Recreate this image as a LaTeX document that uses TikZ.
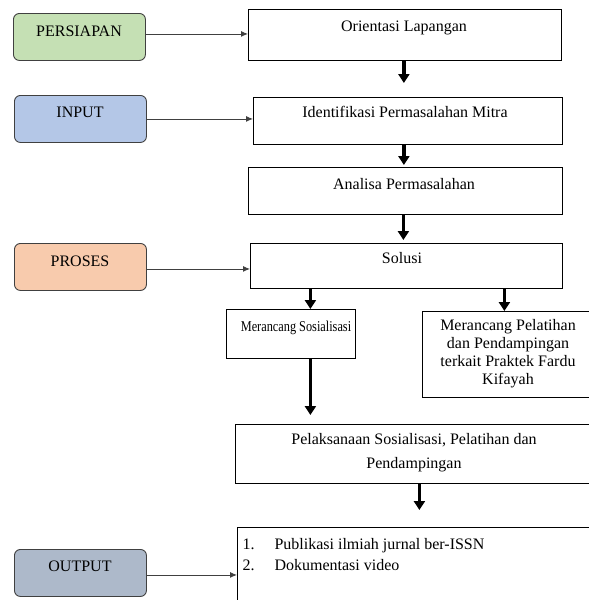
\documentclass[tikz,border=0pt]{standalone}
\usepackage{fontspec}
\setmainfont{Liberation Serif}
\usetikzlibrary{arrows.meta}

\begin{document}
\begin{tikzpicture}[x=1pt,y=-1pt,
    tahap/.style={draw=black!75,line width=0.9pt,rounded corners=6pt,anchor=north west,minimum width=132pt,minimum height=47pt,inner sep=0pt},
    kotak/.style={draw=black,line width=0.8pt,anchor=north west,inner sep=0pt},
    panah/.style={draw=black!75,line width=0.9pt,-{Latex[length=7pt,width=6pt]}},
    tebal/.style={draw=black,line width=3.6pt,-{Triangle[length=9pt,width=11pt]}}]
    \fontsize{16}{19}\selectfont
    \definecolor{hijau}{RGB}{197,224,180};
    \definecolor{biru}{RGB}{180,199,231};
    \definecolor{jingga}{RGB}{248,203,173};
    \definecolor{abu}{RGB}{173,185,202};
    \useasboundingbox (0,0) rectangle (589,600);
    \clip (0,0) rectangle (589,600);

    \node[tahap,fill=hijau] (persiapan) at (13,13) {};
    \node[tahap,fill=biru] (input) at (14,95) {};
    \node[tahap,fill=jingga] (proses) at (14,243) {};
    \node[tahap,fill=abu] (output) at (14,549) {};
    \node (persiapanT) at (79,31) {PERSIAPAN};
    \node (inputT) at (80,112) {INPUT};
    \node (prosesT) at (80,261) {PROSES};
    \node (outputT) at (80,566) {OUTPUT};

    \node[kotak,minimum width=313pt,minimum height=51pt] (orientasi) at (248,9) {};
    \node[kotak,minimum width=309pt,minimum height=47pt] (identifikasi) at (253,97) {};
    \node[kotak,minimum width=314pt,minimum height=47pt] (analisa) at (248,167) {};
    \node[kotak,minimum width=312pt,minimum height=45pt] (solusi) at (250,243) {};
    \node[kotak,minimum width=129pt,minimum height=49pt] (sosialisasi) at (226,309) {};
    \node[kotak,minimum width=168pt,minimum height=86pt] (pelatihan) at (422,311) {};
    \node[kotak,minimum width=355pt,minimum height=59pt] (pelaksanaan) at (235,424) {};
    \node[kotak,minimum width=400pt,minimum height=100pt] (luaran) at (237,527) {};

    \node (orientasiT) at (404,28) {Orientasi Lapangan};
    \node (identifikasiT) at (405,112) {Identifikasi Permasalahan Mitra};
    \node (analisaT) at (404,184) {Analisa Permasalahan};
    \node (solusiT) at (402,258) {Solusi};
    \node[font=\fontsize{15}{18}\selectfont,transform shape,xscale=0.82] (sosialisasiT) at (296,328) {Merancang Sosialisasi};
    \node[align=center,font=\fontsize{16}{18}\selectfont] (pelatihanT) at (508,354) {Merancang Pelatihan\\dan Pendampingan\\terkait Praktek Fardu\\Kifayah};
    \node[align=center,font=\fontsize{16}{24}\selectfont] (pelaksanaanT) at (414,453) {Pelaksanaan Sosialisasi, Pelatihan dan\\Pendampingan};
    \node[anchor=west] (luaranT) at (237,556) {\renewcommand{\arraystretch}{1.1}\begin{tabular}{@{}l@{\hspace{20pt}}l@{}}1. & Publikasi ilmiah jurnal ber-ISSN\\2. & Dokumentasi video\end{tabular}};

    \draw[panah] ([yshift=3pt]persiapan.east) -- ([yshift=3pt]persiapan.east -| orientasi.west);
    \draw[panah] (input.east) -- (input.east -| identifikasi.west);
    \draw[panah] ([yshift=-2pt]proses.east) -- ([yshift=-2pt]proses.east -| solusi.west);
    \draw[panah] ([yshift=-2pt]output.east) -- ([yshift=-2pt]output.east -| luaran.west);

    \draw[tebal,shorten >=14pt] ([xshift=-1pt]orientasi.south) -- ([xshift=-1pt]orientasi.south |- identifikasi.north);
    \draw[tebal,shorten >=2pt] ([xshift=-4pt]identifikasi.south) -- ([xshift=-4pt]identifikasi.south |- analisa.north);
    \draw[tebal,shorten >=3pt] ([xshift=-2pt]analisa.south) -- ([xshift=-2pt]analisa.south |- solusi.north);
    \draw[tebal] ([xshift=19.5pt]sosialisasi.north |- solusi.south) -- ([xshift=19.5pt]sosialisasi.north);
    \draw[tebal] ([xshift=-2pt]pelatihan.north |- solusi.south) -- ([xshift=-2pt]pelatihan.north);
    \draw[tebal,shorten >=9pt] ([xshift=19.5pt]sosialisasi.south) -- ([xshift=19.5pt]sosialisasi.south |- pelaksanaan.north);
    \draw[tebal,shorten >=17pt] ([xshift=6.5pt]pelaksanaan.south) -- ([xshift=6.5pt]pelaksanaan.south |- luaran.north);
\end{tikzpicture}
\end{document}
